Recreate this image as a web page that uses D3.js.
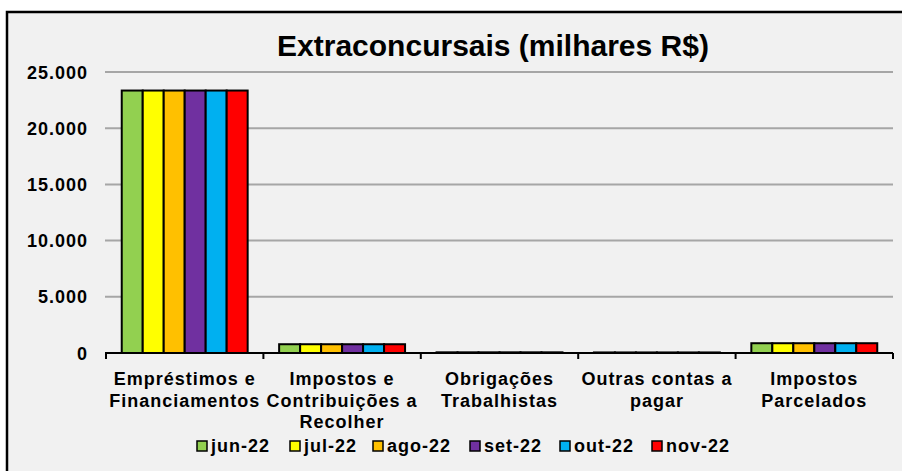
<!DOCTYPE html>
<html>
<head>
<meta charset="utf-8">
<script src="https://cdnjs.cloudflare.com/ajax/libs/d3/7.8.5/d3.min.js"></script>
<style>
  body { margin: 0; background: #fff; }
  svg text { font-family: "Liberation Sans", Arial, sans-serif; font-weight: bold; fill: #000; }
</style>
</head>
<body>
<div id="chart"></div>
<script>
var categories = [
    ["Empréstimos e", "Financiamentos"],
    ["Impostos e", "Contribuições a", "Recolher"],
    ["Obrigações", "Trabalhistas"],
    ["Outras contas a", "pagar"],
    ["Impostos", "Parcelados"]
];
var months = ["jun-22", "jul-22", "ago-22", "set-22", "out-22", "nov-22"];
var colors = ["#92d050", "#ffff00", "#ffc000", "#7030a0", "#00b0f0", "#ff0000"];
// one array per month, values in the category order
var jun22 = [23350, 780, 60, 50, 870];
var jul22 = [23350, 780, 60, 50, 870];
var ago22 = [23350, 780, 60, 50, 870];
var set22 = [23350, 780, 60, 50, 870];
var out22 = [23350, 780, 60, 50, 870];
var nov22 = [23350, 780, 60, 50, 870];
var series = [jun22, jul22, ago22, set22, out22, nov22];
var yTicks = [0, 5000, 10000, 15000, 20000, 25000];

var W = 902, H = 471;
var svg = d3.select("#chart").append("svg")
    .attr("width", W)
    .attr("height", H);

// chart area with frame
svg.append("rect")
    .attr("x", 7).attr("y", 12)
    .attr("width", 910).attr("height", 480)
    .attr("fill", "#f1f1f1")
    .attr("stroke", "#000")
    .attr("stroke-width", 2.5);

svg.append("text")
    .attr("x", 493).attr("y", 56)
    .attr("text-anchor", "middle")
    .style("font-size", "30px")
    .text("Extraconcursais (milhares R$)");

var plotLeft = 106, plotRight = 893, plotTop = 72, plotBottom = 353;

var x0 = d3.scaleBand()
    .domain(d3.range(categories.length))
    .range([plotLeft, plotRight])
    .paddingInner(0).paddingOuter(0);
var x1 = d3.scaleBand()
    .domain(d3.range(months.length))
    .range([0, x0.bandwidth()])
    .paddingOuter(0.75).paddingInner(0);
var y = d3.scaleLinear().domain([0, 25000]).range([plotBottom, plotTop]);

// gridlines
svg.append("g").selectAll("line")
    .data(yTicks.filter(function (d) { return d > 0; }))
    .enter().append("line")
    .attr("x1", plotLeft - 1).attr("x2", plotRight)
    .attr("y1", function (d) { return y(d); })
    .attr("y2", function (d) { return y(d); })
    .attr("stroke", "#a6a6a6")
    .attr("stroke-width", 2);

// y labels
var fmt = function (d) { return d3.format(",")(d).replace(/,/g, "."); };
svg.append("g").selectAll("text")
    .data(yTicks)
    .enter().append("text")
    .attr("x", 88)
    .attr("y", function (d) { return y(d) + 6.5; })
    .attr("text-anchor", "end")
    .style("font-size", "18px")
    .style("letter-spacing", "1px")
    .text(fmt);

// bars
var groups = svg.append("g").selectAll("g")
    .data(series)
    .enter().append("g")
    .attr("fill", function (d, i) { return colors[i]; });
groups.each(function (vals, si) {
    d3.select(this).selectAll("rect")
        .data(vals)
        .enter().append("rect")
        .attr("x", function (d, ci) { return x0(ci) + x1(si); })
        .attr("y", function (d) { return y(d); })
        .attr("width", x1.bandwidth())
        .attr("height", function (d) { return plotBottom - y(d); })
        .attr("stroke", "#000")
        .attr("stroke-width", 2);
});

// x axis
var xa = svg.append("g");
xa.append("line")
    .attr("x1", plotLeft - 1).attr("x2", plotRight)
    .attr("y1", plotBottom).attr("y2", plotBottom)
    .attr("stroke", "#000").attr("stroke-width", 2);
xa.selectAll("line.tick")
    .data(d3.range(categories.length + 1))
    .enter().append("line")
    .attr("class", "tick")
    .attr("x1", function (i) { return plotLeft + i * x0.bandwidth(); })
    .attr("x2", function (i) { return plotLeft + i * x0.bandwidth(); })
    .attr("y1", plotBottom).attr("y2", plotBottom + 6)
    .attr("stroke", "#000").attr("stroke-width", 2);

xa.selectAll("text")
    .data(categories)
    .enter().append("text")
    .attr("text-anchor", "middle")
    .style("font-size", "18px")
    .style("letter-spacing", "1px")
    .attr("transform", function (d, i) {
        return "translate(" + (x0(i) + x0.bandwidth() / 2) + ",385)";
    })
    .each(function (lines) {
        var t = d3.select(this);
        lines.forEach(function (l, k) {
            t.append("tspan").attr("x", 0).attr("y", k * 21.5).text(l);
        });
    });

// legend
var legendX = [197, 290, 373, 470, 560, 652];
var legend = svg.append("g").selectAll("g")
    .data(months)
    .enter().append("g")
    .attr("transform", function (d, i) { return "translate(" + legendX[i] + ",441)"; });
legend.append("rect")
    .attr("width", 10).attr("height", 10)
    .attr("fill", function (d, i) { return colors[i]; })
    .attr("stroke", "#000").attr("stroke-width", 1.5);
legend.append("text")
    .attr("x", 14).attr("y", 11)
    .style("font-size", "18px")
    .style("letter-spacing", "1px")
    .text(function (d) { return d; });
</script>
</body>
</html>
